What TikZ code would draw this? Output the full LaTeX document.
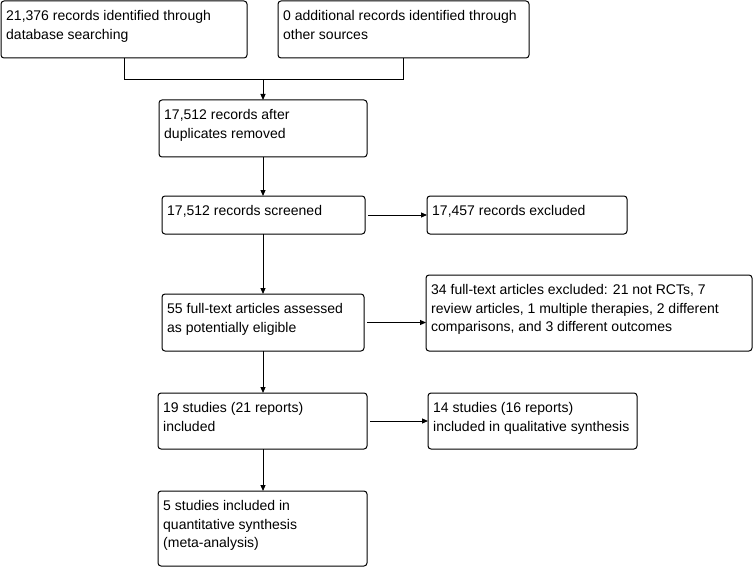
\documentclass[tikz,border=0pt]{standalone}
\usepackage{fontspec}
\setmainfont{Liberation Sans}
\usetikzlibrary{arrows.meta}
\begin{document}
\begin{tikzpicture}[x=1pt,y=-1pt,
  box/.style={draw, line width=1pt, rounded corners=3pt, anchor=north west, inner sep=0pt, outer sep=0pt},
  txt/.style={anchor=north west, inner xsep=5pt, inner ysep=9.5pt, align=left, font=\fontsize{14}{18.5}\selectfont},
  conn/.style={line width=1pt},
  arr/.style={line width=1pt, -{Triangle[length=6pt,width=5pt]}}]
\useasboundingbox (0,0) rectangle (755,567);
% boxes
\node[box, minimum width=246pt, minimum height=57pt] (a) at (1,1) {};
\node[box, minimum width=251pt, minimum height=57pt] (b) at (278,1) {};
\node[box, minimum width=208pt, minimum height=57pt] (c) at (159,100) {};
\node[box, minimum width=203pt, minimum height=38pt] (d) at (162,196) {};
\node[box, minimum width=200pt, minimum height=38pt] (e) at (427,196) {};
\node[box, minimum width=202pt, minimum height=57pt] (f) at (162,294) {};
\node[box, minimum width=326pt, minimum height=76pt] (g) at (426,275) {};
\node[box, minimum width=209pt, minimum height=56pt] (h) at (158,393) {};
\node[box, minimum width=209pt, minimum height=56pt] (i) at (428,393) {};
\node[box, minimum width=209pt, minimum height=75pt] (j) at (158,491) {};
% texts
\node[txt] (ta) at (a.north west) {21,376 records identified through\\database searching};
\node[txt] (tb) at (b.north west) {0 additional records identified through\\other sources};
\node[txt] (tc) at (c.north west) {17,512 records after\\duplicates removed};
\node[txt] (td) at (d.north west) {17,512 records screened};
\node[txt] (te) at (e.north west) {17,457 records excluded};
\node[txt] (tf) at (f.north west) {55 full-text articles assessed\\as potentially eligible};
\node[txt] (tg) at (g.north west) {34 full-text articles excluded: 21 not RCTs, 7\\review articles, 1 multiple therapies, 2 different\\comparisons, and 3 different outcomes};
\node[txt] (th) at (h.north west) {19 studies (21 reports)\\included};
\node[txt] (ti) at (i.north west) {14 studies (16 reports)\\included in qualitative synthesis};
\node[txt] (tj) at (j.north west) {5 studies included in\\quantitative synthesis\\(meta-analysis)};
% connectors
\coordinate (jn) at (263,79.5);
\draw[conn] (a.south) |- (jn);
\draw[conn] (b.south) |- (jn);
\draw[arr] (jn) -- (jn |- c.north);
\draw[arr] (jn |- c.south) -- (jn |- d.north);
\draw[arr] (jn |- d.south) -- (jn |- f.north);
\draw[arr] (jn |- f.south) -- (jn |- h.north);
\draw[arr] (jn |- h.south) -- (jn |- j.north);
\draw[arr] ([xshift=3pt]d.east) -- (e.west |- d.east);
\draw[arr] ([xshift=3pt]f.east) -- (g.west |- f.east);
\draw[arr] ([xshift=3pt]h.east) -- (i.west |- h.east);
\end{tikzpicture}
\end{document}
